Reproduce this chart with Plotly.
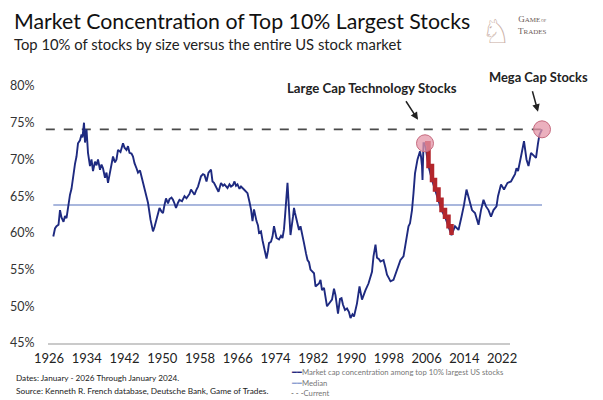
import plotly.graph_objects as go

# ---- data ----
YEARS = [1926.06, 1926.4, 1926.7, 1927.1, 1927.4, 1927.7, 1928.1, 1928.4, 1928.7, 1929.0, 1929.4, 1929.7,
         1930.0, 1930.4, 1930.7, 1931.0, 1931.4, 1931.7, 1931.9, 1932.2, 1932.4, 1932.7, 1933.0, 1933.4,
         1933.7, 1934.0, 1934.4, 1934.7, 1935.0, 1935.4, 1935.7, 1936.0, 1936.4, 1936.7, 1937.0, 1937.4,
         1937.7, 1938.0, 1938.4, 1938.7, 1939.0, 1939.5, 1940.0, 1940.3, 1940.7, 1941.0, 1941.3, 1941.7,
         1942.0, 1942.3, 1942.7, 1943.0, 1943.4, 1943.7, 1944.0, 1944.3, 1944.7, 1945.0, 1945.5, 1946.0,
         1946.3, 1946.7, 1947.0, 1947.3, 1947.7, 1948.0, 1948.3, 1948.6, 1949.0, 1949.3, 1949.7, 1950.0,
         1950.3, 1950.6, 1951.0, 1951.3, 1951.8, 1952.3, 1952.7, 1953.0, 1953.3, 1953.6, 1954.0, 1954.3,
         1954.7, 1955.0, 1955.3, 1955.6, 1956.0, 1956.3, 1956.7, 1957.1, 1957.6, 1957.9, 1958.2, 1958.6,
         1959.1, 1959.6, 1960.0, 1960.3, 1960.9, 1961.3, 1961.6, 1962.0, 1962.3, 1962.6, 1962.9, 1963.3,
         1963.6, 1964.2, 1964.9, 1965.3, 1965.6, 1965.9, 1966.2, 1966.7, 1967.0, 1967.2, 1967.6, 1967.9,
         1968.2, 1968.7, 1969.0, 1969.2, 1969.6, 1969.9, 1970.2, 1970.7, 1971.2, 1971.6, 1971.9, 1972.2,
         1972.4, 1972.7, 1972.9, 1973.2, 1973.5, 1974.0, 1974.2, 1974.4, 1974.9, 1975.2, 1975.5, 1975.9,
         1976.2, 1976.6, 1976.9, 1977.2, 1977.5, 1978.2, 1978.5, 1979.2, 1979.5, 1979.8, 1980.2, 1980.8,
         1981.2, 1981.8, 1982.2, 1982.5, 1983.0, 1983.4, 1983.7, 1984.0, 1984.4, 1984.8, 1985.2, 1985.5,
         1985.9, 1986.2, 1986.8, 1987.3, 1987.8, 1988.2, 1988.5, 1989.1, 1989.5, 1989.8, 1990.1, 1990.5,
         1990.8, 1991.2, 1991.5, 1992.1, 1992.5, 1992.8, 1993.2, 1993.5, 1994.1, 1994.5, 1994.8, 1995.5,
         1996.1, 1996.5, 1996.8, 1997.1, 1997.4, 1997.8, 1998.1, 1998.4, 1998.9, 1999.2, 1999.4, 1999.6,
         1999.8, 1999.9, 2000.1, 2000.4, 2001.1, 2001.8, 2002.4, 2003.1, 2003.7, 2004.4, 2005.1, 2005.7,
         2006.4, 2007.1, 2007.7, 2008.2, 2008.7, 2009.1, 2009.4, 2009.8, 2010.4, 2011.1, 2011.6, 2012.1,
         2012.6, 2013.1, 2013.6, 2014.1, 2014.7, 2015.0, 2015.6, 2016.2, 2016.9, 2017.6, 2018.0, 2018.4,
         2018.7, 2019.0, 2019.6, 2020.2, 2020.7, 2021.1, 2021.6, 2022.2, 2022.6, 2023.0, 2023.3, 2023.8]

CONCENTRATION = [59.5, 60.6, 60.9, 61.1, 63.1, 62.1, 61.5, 62.3, 62.0, 63.6, 65.2, 66.0,
                 67.7, 69.4, 70.4, 72.2, 72.6, 73.4, 73.0, 75.0, 72.3, 74.1, 70.9, 69.1,
                 70.0, 68.4, 69.7, 69.2, 70.0, 68.6, 69.3, 68.8, 67.5, 68.2, 66.8, 68.3,
                 69.5, 70.4, 69.6, 70.0, 71.3, 71.0, 72.2, 71.6, 71.3, 71.8, 70.9, 70.8,
                 70.4, 69.5, 68.8, 68.2, 68.5, 67.7, 66.8, 65.9, 65.2, 64.1, 61.8, 60.2,
                 60.8, 61.8, 62.5, 63.4, 62.9, 62.7, 63.8, 64.7, 64.0, 64.6, 64.8, 64.5,
                 64.0, 63.4, 64.1, 64.5, 64.3, 65.0, 64.7, 65.0, 65.3, 65.9, 65.5, 65.2,
                 65.9, 66.3, 67.0, 67.7, 68.0, 67.9, 67.0, 68.2, 68.6, 67.0, 66.8, 66.3,
                 65.6, 66.8, 66.4, 66.6, 66.1, 66.6, 66.3, 66.5, 67.0, 66.4, 66.6, 66.0,
                 66.3, 65.9, 65.4, 64.2, 63.2, 61.6, 63.2, 61.6, 61.0, 60.0, 60.2, 59.0,
                 58.1, 56.5, 57.6, 58.6, 58.8, 59.5, 60.9, 59.3, 59.1, 59.6, 59.3, 60.5,
                 62.2, 64.5, 66.8, 63.2, 59.7, 62.2, 63.4, 62.7, 61.3, 60.4, 60.9, 59.8,
                 58.6, 57.2, 56.3, 56.0, 55.0, 54.5, 52.7, 53.1, 53.6, 52.2, 52.5, 50.0,
                 50.4, 50.9, 52.4, 51.5, 49.0, 51.0, 51.1, 50.2, 49.5, 49.7, 49.2, 48.4,
                 48.9, 48.6, 50.4, 52.7, 50.9, 51.8, 52.2, 53.1, 54.2, 54.7, 56.8, 58.4,
                 56.6, 56.4, 56.1, 56.3, 55.2, 54.3, 53.8, 53.4, 53.6, 54.4, 55.0, 56.3,
                 56.8, 58.6, 60.0, 60.9, 61.3, 63.1, 65.4, 68.1, 70.0, 70.8, 71.1, 70.4,
                 69.1, 67.2, 72.2, 72.2, 69.1, 67.2, 65.9, 64.5, 63.1, 62.2, 60.9, 59.7,
                 60.9, 60.4, 62.2, 63.8, 65.9, 65.0, 64.3, 63.1, 62.7, 61.1, 63.1, 64.5,
                 63.6, 63.1, 62.2, 63.1, 63.6, 65.0, 66.6, 65.9, 66.8, 67.0, 67.5, 68.0,
                 68.8, 68.4, 70.4, 72.5, 70.0, 69.1, 70.9, 70.4, 70.2, 72.2, 73.4, 74.1]

MEDIAN = 63.8
CURRENT = 74.1
TECH_START = 2000.4
TECH_END = 2005.7

TICK_YEARS = [1926, 1934, 1942, 1950, 1958, 1966, 1974, 1982, 1990, 1998, 2006, 2014, 2022]
TICK_LABELS = [str(y) for y in TICK_YEARS]
Y_TICKS = [45, 50, 55, 60, 65, 70, 75, 80]
Y_LABELS = [f"{v}%" for v in Y_TICKS]

NAVY = "#1e2a80"
RED = "#b3262c"
MEDIAN_COLOR = "#8c9fd2"
DASH_COLOR = "#4a4a4a"
FONT = "Lato"

tech_x = [x for x in YEARS if TECH_START <= x <= TECH_END]
tech_y = [v for x, v in zip(YEARS, CONCENTRATION) if TECH_START <= x <= TECH_END]
circle_x = [TECH_START, YEARS[-1]]
circle_y = [CONCENTRATION[YEARS.index(TECH_START)], CONCENTRATION[-1]]

# page body has an 8px margin, so the figure is drawn 8px in from the window corner
OFF = 8
W, H = 603 - OFF, 400 - OFF
L, R, T, B = 40 - OFF, 48, 70 - OFF, 57
PW, PH = W - L - R, H - T - B


def px(xp):
    return (xp - OFF - L) / PW


def py(yp):
    return (H - B - (yp - OFF)) / PH


fig = go.Figure()

# invisible trace that carries the labelled year axis
fig.add_trace(go.Scatter(x=TICK_YEARS, y=[Y_TICKS[0]] * len(TICK_YEARS), xaxis="x2", yaxis="y",
                         mode="markers", marker=dict(opacity=0), hoverinfo="skip"))
# current (dashed)
fig.add_trace(go.Scatter(x=[YEARS[0] - 1.5, YEARS[-1] + 1.2], y=[CURRENT, CURRENT], mode="lines",
                         line=dict(color=DASH_COLOR, width=1.8, dash="dash"), hoverinfo="skip"))
# median
fig.add_trace(go.Scatter(x=[YEARS[0], YEARS[-1]], y=[MEDIAN, MEDIAN], mode="lines",
                         line=dict(color=MEDIAN_COLOR, width=1.4), hoverinfo="skip"))
# main series
fig.add_trace(go.Scatter(x=YEARS, y=CONCENTRATION, mode="lines",
                         line=dict(color=NAVY, width=1.9), name="Market cap concentration"))
# tech unwind (red)
fig.add_trace(go.Scatter(x=tech_x, y=tech_y, mode="lines",
                         line=dict(color=RED, width=4.5, shape="hv"), hoverinfo="skip"))
# highlight circles
fig.add_trace(go.Scatter(x=circle_x, y=circle_y, mode="markers",
                         marker=dict(size=17, color="rgba(228,150,168,0.75)",
                                     line=dict(color="#c66c80", width=1)), hoverinfo="skip"))

fig.update_layout(
    width=W, height=H,
    margin=dict(l=L, r=R, t=T, b=B),
    paper_bgcolor="white", plot_bgcolor="rgba(0,0,0,0)",
    showlegend=False,
    font=dict(family=FONT, color="#222"),
    xaxis=dict(range=[1923.4, 2026.4], visible=False, domain=[0, 1], automargin=False),
    xaxis2=dict(range=[1925.79, 2023.67], domain=[px(48), px(510)], anchor="y", automargin=False,
                tickvals=TICK_YEARS, ticktext=TICK_LABELS, showgrid=False, zeroline=False,
                showline=True, linecolor="#cacaca", linewidth=1.5,
                ticks="outside", ticklen=3, tickcolor="rgba(0,0,0,0)",
                tickfont=dict(size=13, color="#222", family=FONT)),
    yaxis=dict(range=[45, 45 + PH / 7.343], tickvals=Y_TICKS, ticktext=Y_LABELS, automargin=False,
               showgrid=False, zeroline=False, showline=False,
               ticks="outside", ticklen=2, tickcolor="rgba(0,0,0,0)",
               tickfont=dict(size=12.5, color="#333", family=FONT)),
)

ann = []
ann.append(dict(x=px(12), y=py(21), xref="paper", yref="paper", xanchor="left", yanchor="middle",
                text="Market Concentration of Top 10% Largest Stocks", showarrow=False,
                font=dict(size=21.3, color="#111", family=FONT)))
ann.append(dict(x=px(12), y=py(44), xref="paper", yref="paper", xanchor="left", yanchor="middle",
                text="Top 10% of stocks by size versus the entire US stock market", showarrow=False,
                font=dict(size=14.8, color="#222", family=FONT)))
# logo
ann.append(dict(x=px(496), y=py(31), xref="paper", yref="paper", xanchor="center", yanchor="middle",
                text="♘", showarrow=False, font=dict(size=33, color="#c9aea4", family="DejaVu Sans")))
ann.append(dict(x=px(532), y=py(25), xref="paper", yref="paper", xanchor="center", yanchor="middle",
                text="G<span style='font-size:7px'>AME</span><span style='font-size:4px'> OF</span><br>T<span style='font-size:7px'>RADES</span>",
                showarrow=False, font=dict(size=9, color="#6a5a56", family="Liberation Serif")))
# callouts
ann.append(dict(x=px(372), y=py(88), xref="paper", yref="paper", xanchor="center", yanchor="middle",
                text="<b>Large Cap Technology Stocks</b>", showarrow=False,
                font=dict(size=13.2, color="#222", family=FONT)))
ann.append(dict(x=px(538), y=py(77), xref="paper", yref="paper", xanchor="center", yanchor="middle",
                text="<b>Mega Cap Stocks</b>", showarrow=False,
                font=dict(size=12.9, color="#222", family=FONT)))
ann.append(dict(x=1999.0, y=75.4, xref="x", yref="y", text="", showarrow=True, ax=-13, ay=-20,
                arrowhead=2, arrowsize=1, arrowwidth=1.5, arrowcolor="#222"))
ann.append(dict(x=2023.0, y=76.5, xref="x", yref="y", text="", showarrow=True, ax=-6, ay=-22,
                arrowhead=2, arrowsize=1, arrowwidth=1.5, arrowcolor="#222"))
# footer notes
ann.append(dict(x=px(14), y=py(378), xref="paper", yref="paper", xanchor="left", yanchor="middle",
                text="Dates: January - 2026 Through January 2024.", showarrow=False,
                font=dict(size=8.2, color="#1a1a1a", family=FONT)))
ann.append(dict(x=px(14), y=py(391), xref="paper", yref="paper", xanchor="left", yanchor="middle",
                text="Source: Kenneth R. French database, Deutsche Bank, Game of Trades.", showarrow=False,
                font=dict(size=8.3, color="#1a1a1a", family=FONT)))
# legend
legend_rows = [
    (f"<span style='color:{NAVY}'>━━</span>Market cap concentration among top 10% largest US stocks", 372),
    (f"<span style='color:{MEDIAN_COLOR}'>━━</span>Median", 383),
    (f"<span style='color:{DASH_COLOR}'>- - -</span>Current", 393),
]
for txt, yy in legend_rows:
    ann.append(dict(x=px(289), y=py(yy), xref="paper", yref="paper", xanchor="left", yanchor="middle",
                    text=txt, showarrow=False, font=dict(size=7.7, color="#777", family=FONT)))

fig.update_layout(annotations=ann)
fig.write_html("out.html")
